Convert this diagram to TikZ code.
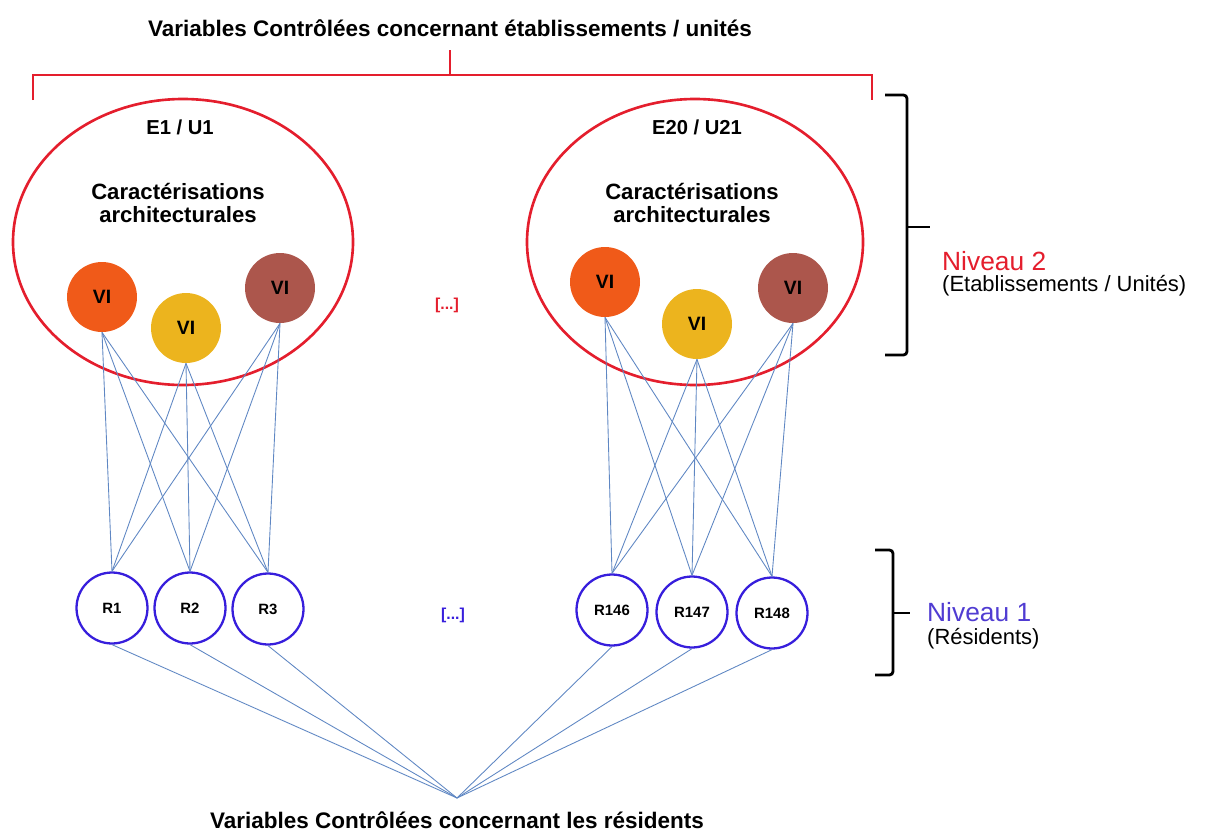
\documentclass[tikz,border=0pt]{standalone}
\usepackage{fontspec}
\setmainfont{Liberation Sans}

\definecolor{vired}{RGB}{228,30,45}
\definecolor{viorange}{RGB}{240,90,25}
\definecolor{viyellow}{RGB}{236,180,30}
\definecolor{vibrown}{RGB}{172,86,76}
\definecolor{resblue}{RGB}{55,30,220}
\definecolor{nivblue}{RGB}{80,60,210}
\definecolor{linkblue}{RGB}{95,135,195}

\begin{document}
\begin{tikzpicture}[x=0.02cm, y=-0.02cm,
	vi/.style={circle, minimum size=1.4cm, inner sep=0pt, font=\fontsize{11}{13}\selectfont\bfseries},
	res/.style={circle, draw=resblue, line width=1.3pt, fill=white, minimum size=1.42cm, inner sep=0pt, font=\fontsize{8.5}{10}\selectfont\bfseries},
	link/.style={draw=linkblue, line width=0.5pt},
	etab/.style={draw=vired, line width=1.5pt},
	brk/.style={draw=black, line width=1.6pt, rounded corners=2pt},
	lbl/.style={font=\fontsize{12.8}{15}\selectfont\bfseries},
	unite/.style={font=\fontsize{11.5}{13}\selectfont\bfseries},
	carac/.style={font=\fontsize{12.6}{13.5}\selectfont\bfseries, align=center}]
	\useasboundingbox (0,0) rectangle (1210,832);

	% niveau 2
	\node[lbl] (top) at (450,28) {Variables Contrôlées concernant établissements / unités};
	\draw[vired, line width=1.4pt] (450,50) -- (450,75);
	\draw[vired, line width=1.4pt] (33,100) -- (33,75) -- (872,75) -- (872,100);

	\draw[etab] (183,242) ellipse [x radius=170, y radius=143];
	\draw[etab] (695,242) ellipse [x radius=168, y radius=143];

	\node[unite] (e1) at (180,127) {E1 / U1};
	\node[unite] (e20) at (697,127) {E20 / U21};
	\node[carac] (arch1) at (178,203) {Caractérisations\\architecturales};
	\node[carac] (arch2) at (692,203) {Caractérisations\\architecturales};

	\node[vi, fill=viorange] (va1) at (102,297) {VI};
	\node[vi, fill=viyellow] (vb1) at (186,328) {VI};
	\node[vi, fill=vibrown] (vc1) at (280,288) {VI};
	\node[vi, fill=viorange] (va2) at (605,282) {VI};
	\node[vi, fill=viyellow] (vb2) at (697,324) {VI};
	\node[vi, fill=vibrown] (vc2) at (793,288) {VI};

	\node[text=vired, font=\fontsize{9}{11}\selectfont\bfseries] (dots2) at (447,305) {[...]};

	% niveau 1
	\node[res] (r1) at (112,608) {R1};
	\node[res] (r2) at (190,608) {R2};
	\node[res] (r3) at (268,609) {R3};
	\node[res] (r146) at (612,610) {R146};
	\node[res] (r147) at (692,612) {R147};
	\node[res] (r148) at (772,613) {R148};

	\node[text=resblue, font=\fontsize{9}{11}\selectfont\bfseries] (dots1) at (453,615) {[...]};

	\foreach \v in {va1, vb1, vc1}
		\foreach \r in {r1, r2, r3}
			\draw[link] (\v.south) -- (\r.north);
	\foreach \v in {va2, vb2, vc2}
		\foreach \r in {r146, r147, r148}
			\draw[link] (\v.south) -- (\r.north);

	\coordinate (meet) at (457,798);
	\foreach \r in {r1, r2, r3, r146, r147, r148}
		\draw[link] (\r.south) -- (meet);
	\node[lbl] (bottom) at (457,820) {Variables Contrôlées concernant les résidents};

	% accolades
	\draw[brk] (885,95) -- (907,95) -- (907,355) -- (885,355);
	\draw[brk] (907,227) -- (930,227);
	\draw[brk] (875,550) -- (893,550) -- (893,675) -- (875,675);
	\draw[brk] (893,613) -- (910,613);

	\node[anchor=west, text=vired, font=\fontsize{15}{17}\selectfont] (niv2) at (936,261) {Niveau 2};
	\node[anchor=west, font=\fontsize{12.5}{14}\selectfont] (etabl) at (936,286) {(Etablissements / Unités)};
	\node[anchor=west, text=nivblue, font=\fontsize{15}{17}\selectfont] (niv1) at (921,612) {Niveau 1};
	\node[anchor=west, font=\fontsize{12.5}{14}\selectfont] (resid) at (921,639) {(Résidents)};
\end{tikzpicture}
\end{document}
